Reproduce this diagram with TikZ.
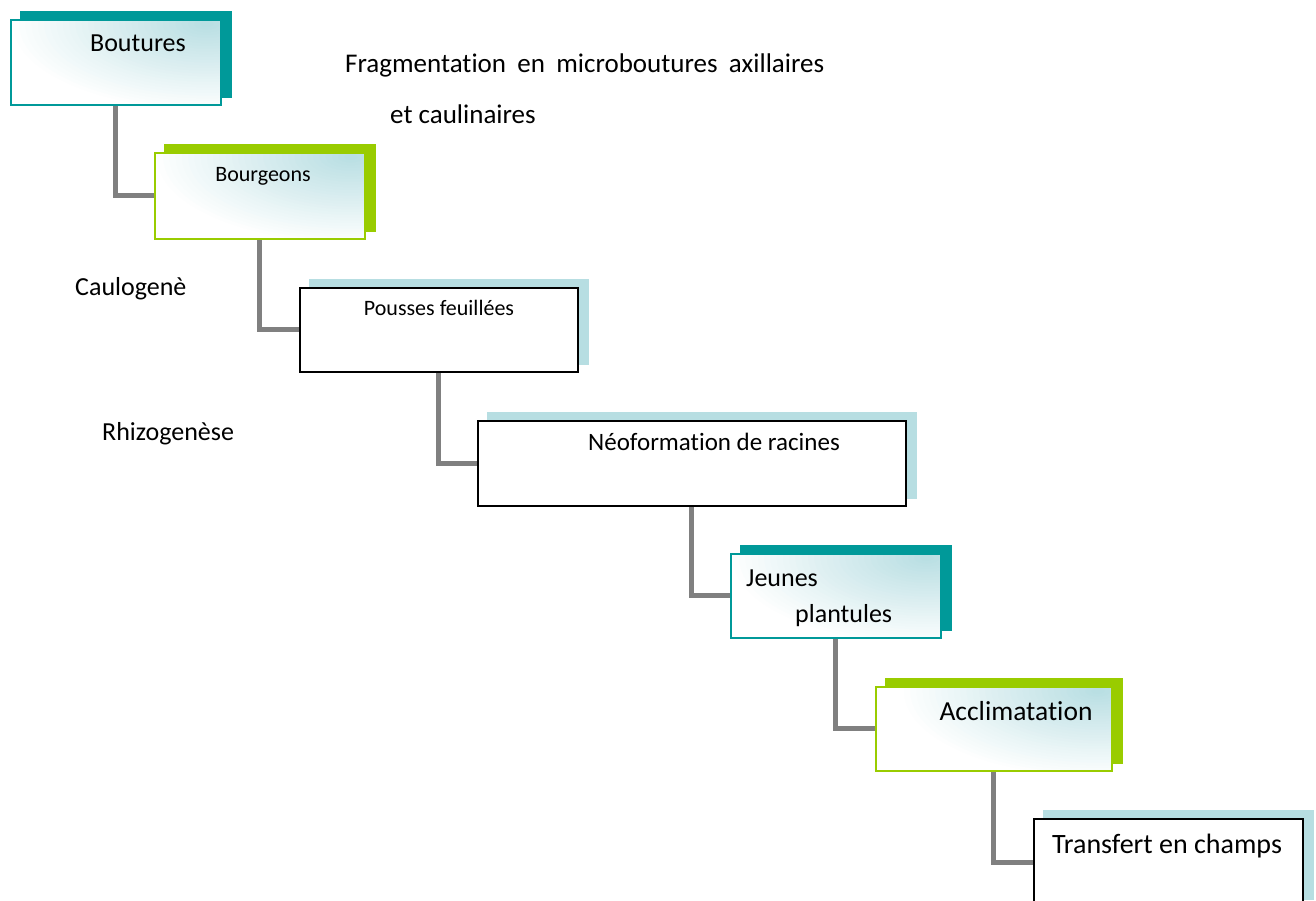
\documentclass[tikz,border=0pt]{standalone}
\usepackage{fontspec}
\setmainfont{Carlito}[Ligatures=NoCommon]
\usetikzlibrary{backgrounds}
\definecolor{tealc}{RGB}{0,153,153}
\definecolor{greenc}{RGB}{153,204,0}
\definecolor{lblue}{RGB}{183,222,226}
\definecolor{conn}{RGB}{128,128,128}
\begin{document}
\begin{tikzpicture}[x=1pt,y=-1pt,
  gbox/.style={draw=#1, line width=1.8pt, anchor=north west, inner sep=0pt, fill=white,
    path picture={
      \foreach \i in {1,...,32}{
        \pgfmathsetmacro\ff{(33-\i)/32}
        \pgfmathsetmacro\pp{(\i-1)*100/32}
        \fill[lblue!\pp!white] ([shift={(-14pt,-4pt)}]path picture bounding box.north east)
          ellipse [x radius=\ff*200pt, y radius=\ff*88pt];
      }}},
  wbox/.style={draw=black, line width=1.8pt, anchor=north west, inner sep=0pt, fill=white},
  lbl/.style={inner sep=0pt, font=\fontsize{26}{30}\selectfont},
  slbl/.style={inner sep=0pt, font=\fontsize{22}{26}\selectfont},
  link/.style={draw=conn, line width=5pt},
  shad/.style={fill=#1}]
\useasboundingbox (0,0) rectangle (1316,900);
\clip (0,0) rectangle (1316,900);

% boxes
\node[gbox=tealc, minimum width=210pt, minimum height=85pt] (b1) at (10,19) {};
\node[gbox=greenc, minimum width=210pt, minimum height=86pt] (b2) at (154,152) {};
\node[wbox, minimum width=278pt, minimum height=84pt] (b3) at (299,287) {};
\node[wbox, minimum width=428pt, minimum height=85pt] (b4) at (477,420) {};
\node[gbox=tealc, minimum width=210pt, minimum height=84pt] (b5) at (730,553) {};
\node[gbox=greenc, minimum width=236pt, minimum height=84pt] (b6) at (875,686) {};
\node[wbox, minimum width=269pt, minimum height=88pt] (b7) at (1033,818) {};

% shadows
\begin{scope}[on background layer]
\foreach \b/\c in {b1/tealc, b2/greenc, b3/lblue, b4/lblue, b5/tealc, b6/greenc, b7/lblue}{
  \fill[shad=\c] ([shift={(10pt,8pt)}]\b.south west) rectangle ([shift={(10pt,8pt)}]\b.north east);
}
% connectors
\draw[link] (b1.south) |- (b2.west);
\draw[link] (b2.south) |- (b3.west);
\draw[link] (b3.south) |- (b4.west);
\draw[link] (b4.south) |- (b5.west);
\draw[link] (b5.south) |- (b6.west);
\draw[link] (b6.south) |- (b7.west);
\end{scope}

% box texts
\node[lbl, anchor=base] (t1) at (138,51) {Boutures};
\node[slbl, anchor=base] (t2) at (263,181) {Bourgeons};
\node[slbl, anchor=base] (t3) at (439,315) {Pousses feuillées};
\node[lbl, font=\fontsize{25}{30}\selectfont, anchor=base] (t4) at (714,450) {Néoformation de racines};
\node[lbl, anchor=base west] (t5a) at (746,586) {Jeunes};
\node[lbl, anchor=base west] (t5b) at (795,622) {plantules};
\node[lbl, font=\fontsize{27.5}{30}\selectfont, anchor=base] (t6) at (1016,720) {Acclimatation};
\node[lbl, font=\fontsize{28}{30}\selectfont, anchor=base] (t7) at (1167,853) {Transfert en champs};

% free texts
\node[lbl, font=\fontsize{27}{30}\selectfont, anchor=base west] (f1) at (345,72) {Fragmentation\hspace{0.42em}en\hspace{0.42em}microboutures\hspace{0.42em}axillaires};
\node[lbl, font=\fontsize{27}{30}\selectfont, anchor=base west] (f2) at (390,123) {et caulinaires};
\node[lbl, anchor=base west] (c1) at (75,295) {Caulogenè};
\node[lbl, anchor=base west] (c2) at (102,440) {Rhizogenèse};
\end{tikzpicture}
\end{document}
